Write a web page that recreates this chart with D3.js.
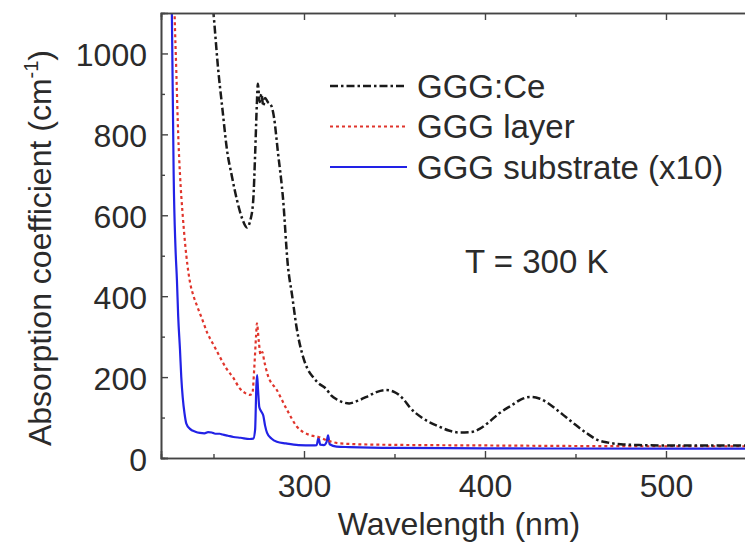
<!DOCTYPE html>
<html>
<head>
<meta charset="utf-8">
<script src="https://cdn.jsdelivr.net/npm/d3@7"></script>
<style>
  html, body { margin: 0; padding: 0; background: #fff; }
  svg { display: block; }
  text { font-family: "Liberation Sans", Arial, Helvetica, sans-serif; fill: #2b2b2b; }
</style>
</head>
<body>
<svg id="chart" width="745" height="551"></svg>
<script>
// Absorption spectra at T = 300 K
// GGG:Ce crystal
const ceWavelength = [249, 250, 252.5, 255, 257.5, 260, 263, 266, 268.5, 270.5, 272, 273, 274, 274.5, 275.5, 276.5, 277.5, 278.5, 280, 282, 283.5, 285.5, 288.5, 291, 293.5, 296, 299.5, 302, 305, 308, 312, 315, 318, 322, 325, 330, 335, 340, 345, 350, 355, 358.5, 365, 370, 375, 380, 386, 392, 397, 402, 408, 415, 420, 425, 430, 434, 440, 445, 450, 456, 462, 468, 475, 485, 500, 520, 550];
const ceAbs = [1150, 1100, 965, 860, 760, 700, 637, 590, 570, 590, 640, 750, 880, 925, 880, 900, 870, 890, 880, 870, 840, 760, 637, 480, 400, 320, 250, 220, 200, 185, 172, 155, 145, 137, 135, 142, 152, 163, 168, 163, 145, 125, 100, 87, 77, 68, 63, 64, 72, 88, 111, 131, 145, 151, 147, 138, 118, 100, 82, 62, 45, 38, 34, 32, 31, 31, 31];

// GGG layer
const layerWavelength = [227.5, 228.5, 229.5, 230.5, 231.5, 233, 235, 237, 239, 241, 244, 246.5, 250, 253.5, 257, 261, 264.5, 267, 270, 271.5, 272.5, 273.5, 274, 275, 276, 277, 278, 280, 285, 290.5, 296, 303, 308, 312.5, 320, 340, 400, 500, 550];
const layerAbs = [1300, 1100, 950, 800, 700, 600, 500, 435, 400, 375, 340, 310, 280, 250, 222, 198, 172, 162, 156, 160, 220, 300, 333, 290, 255, 262, 240, 205, 168, 120, 78, 57, 52, 44, 36, 33, 31, 29, 29];

// GGG substrate, values multiplied by 10
const substrateWavelength = [226.5, 227, 227.5, 228, 229, 229.8, 230.5, 231.5, 232.2, 233, 234, 235, 237, 240, 242.5, 245, 247, 249, 251, 253.5, 255, 258, 261, 265, 270, 272, 273, 273.7, 274.1, 274.6, 275.3, 276, 276.8, 277.5, 278.5, 279.6, 282, 285, 290, 297, 305, 307, 308, 309, 311, 312.5, 313.3, 314.2, 318, 325, 350, 400, 500, 550];
const substrateAbs = [1300, 1100, 900, 700, 520, 440, 350, 267, 200, 150, 110, 85, 72, 65, 62, 61, 64, 63, 60, 60, 58, 55, 52, 50, 47, 48, 70, 180, 205, 170, 126, 118, 112, 105, 80, 62, 48, 40, 36, 32, 31, 32, 50, 33, 32, 40, 56, 34, 28, 27, 25, 24, 23, 23];

// Axis ticks
const xMajorTicks = [300, 400, 500];
const xMinorTicks = [250, 350, 450, 550];
const yMajorTicks = [0, 200, 400, 600, 800, 1000];
const yMinorTicks = [100, 300, 500, 700, 900];

const seriesNames = ["GGG:Ce", "GGG layer", "GGG substrate (x10)"];

const svg = d3.select("#chart");
const plotLeft = 161, plotTop = 13, plotBottom = 458;
const x = d3.scaleLinear().domain([221, 550]).range([plotLeft, plotLeft + (550 - 221) * 1.81]);
const y = d3.scaleLinear().domain([0, 1100]).range([plotBottom, plotTop]);
const plotRight = x.range()[1];

const series = [
  { name: seriesNames[0], xs: ceWavelength, ys: ceAbs, color: "#1a1a1a", dash: "8,3,2.5,3", width: 2.5 },
  { name: seriesNames[1], xs: layerWavelength, ys: layerAbs, color: "#e0352c", dash: "3,3", width: 2.2 },
  { name: seriesNames[2], xs: substrateWavelength, ys: substrateAbs, color: "#2222e6", dash: null, width: 2.2 }
];

svg.append("defs").append("clipPath").attr("id", "plotClip")
  .append("rect").attr("x", plotLeft).attr("y", plotTop)
  .attr("width", plotRight - plotLeft).attr("height", plotBottom - plotTop);

const line = d3.line()
  .x(d => x(d[0]))
  .y(d => y(d[1]))
  .curve(d3.curveMonotoneX);

const curves = svg.append("g").attr("clip-path", "url(#plotClip)");
// substrate first, then layer, then GGG:Ce on top
[series[2], series[1], series[0]].forEach(s => {
  curves.append("path")
    .datum(s.xs.map((w, i) => [w, s.ys[i]]))
    .attr("fill", "none")
    .attr("stroke", s.color)
    .attr("stroke-width", s.width)
    .attr("stroke-dasharray", s.dash)
    .attr("stroke-linejoin", "round")
    .attr("d", line);
});

// axes with inward ticks
const axisColor = "#444";
function styleAxis(g) {
  g.select(".domain").attr("stroke", axisColor).attr("stroke-width", 1.6);
  g.selectAll(".tick line").attr("stroke", axisColor).attr("stroke-width", 1.4);
  g.selectAll(".tick text")
    .style("font-family", "'Liberation Sans', Arial, Helvetica, sans-serif")
    .attr("font-size", 32).attr("fill", "#2b2b2b");
}

svg.append("g").attr("transform", `translate(0,${plotBottom})`)
  .call(d3.axisBottom(x).tickValues(xMajorTicks).tickSize(-7).tickPadding(16).tickFormat(d3.format("d")))
  .call(styleAxis);
svg.append("g").attr("transform", `translate(0,${plotBottom})`)
  .call(d3.axisBottom(x).tickValues(xMinorTicks).tickSize(-4).tickFormat(""))
  .call(styleAxis);
svg.append("g").attr("transform", `translate(0,${plotTop})`)
  .call(d3.axisTop(x).tickValues(xMajorTicks).tickSize(-7).tickFormat(""))
  .call(styleAxis);
svg.append("g").attr("transform", `translate(0,${plotTop})`)
  .call(d3.axisTop(x).tickValues(xMinorTicks).tickSize(-4).tickFormat(""))
  .call(styleAxis);
svg.append("g").attr("transform", `translate(${plotLeft},0)`)
  .call(d3.axisLeft(y).tickValues(yMajorTicks).tickSize(-7).tickPadding(14).tickFormat(d3.format("d")))
  .call(styleAxis)
  .call(g => g.selectAll(".tick text").attr("dy", "0.38em"));
svg.append("g").attr("transform", `translate(${plotLeft},0)`)
  .call(d3.axisLeft(y).tickValues(yMinorTicks).tickSize(-4).tickFormat(""))
  .call(styleAxis);

// axis titles
svg.append("text")
  .attr("x", 459).attr("y", 535)
  .attr("text-anchor", "middle")
  .attr("font-size", 32)
  .text("Wavelength (nm)");

const yTitle = svg.append("text")
  .attr("transform", "translate(51,248) rotate(-90)")
  .attr("text-anchor", "middle")
  .attr("font-size", 32);
yTitle.append("tspan").text("Absorption coefficient (cm");
yTitle.append("tspan").attr("font-size", 20).attr("dy", -13).text("-1");
yTitle.append("tspan").attr("dy", 13).text(")");

// legend
const legend = svg.append("g");
series.forEach((s, i) => {
  const ly = 86 + i * 40.5;
  legend.append("line")
    .attr("x1", 330).attr("x2", 407)
    .attr("y1", ly).attr("y2", ly)
    .attr("stroke", s.color)
    .attr("stroke-width", s.width)
    .attr("stroke-dasharray", s.dash);
  legend.append("text")
    .attr("x", 417).attr("y", ly + 11.5)
    .attr("font-size", 33)
    .text(s.name);
});

svg.append("text")
  .attr("x", 465).attr("y", 273)
  .attr("font-size", 33)
  .text("T = 300 K");
</script>
</body>
</html>
